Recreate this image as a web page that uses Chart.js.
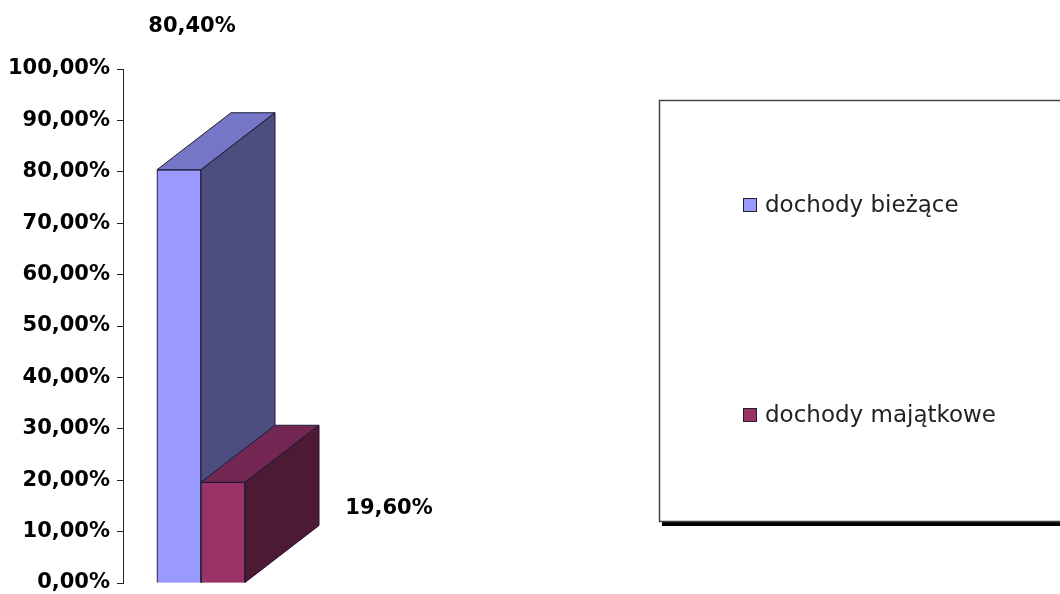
<!DOCTYPE html>
<html>
<head>
<meta charset="utf-8">
<script src="https://cdn.jsdelivr.net/npm/chart.js@4.4.1/dist/chart.umd.min.js"></script>
<style>
  html, body { margin: 0; padding: 0; background: #fff; }
</style>
</head>
<body>
<canvas id="chart" width="1060" height="594"></canvas>
<script>
// data
const categories = [''];
const seriesNames = ['dochody bieżące', 'dochody majątkowe'];
const seriesValues = [[80.4], [19.6]];
const yTicks = [0, 10, 20, 30, 40, 50, 60, 70, 80, 90, 100];

// styles
const frontColors = ['#9999ff', '#993366'];
const topColors = ['#7676c8', '#742752'];
const sideColors = ['#4d4d80', '#4d1a33'];
const edgeColor = '#1a1a33';
const DEPTH_X = 74;
const DEPTH_Y = 57;
// where Excel put the value labels, relative to the bar top
const labelOffsets = [[13, -143], [166, 26]];

function fmtPct(v) {
    return v.toFixed(2).replace('.', ',') + '%';
}

// draws the extruded top and side of each bar, in dataset order
const bar3d = {
    id: 'bar3d',
    afterDatasetsDraw(chart) {
        const ctx = chart.ctx;
        chart.data.datasets.forEach((ds, i) => {
            const meta = chart.getDatasetMeta(i);
            meta.data.forEach(bar => {
                const p = bar.getProps(['x', 'y', 'base', 'width'], true);
                const l = p.x - p.width / 2;
                const r = p.x + p.width / 2;
                const t = p.y;
                const b = p.base;
                // redraw the front so it sits over the previous bar's side
                bar.draw(ctx);
                ctx.save();
                ctx.strokeStyle = edgeColor;
                ctx.lineWidth = 1;
                ctx.lineJoin = 'round';
                ctx.beginPath();
                ctx.moveTo(l, t);
                ctx.lineTo(l + DEPTH_X, t - DEPTH_Y);
                ctx.lineTo(r + DEPTH_X, t - DEPTH_Y);
                ctx.lineTo(r, t);
                ctx.closePath();
                ctx.fillStyle = topColors[i];
                ctx.fill();
                ctx.stroke();
                ctx.beginPath();
                ctx.moveTo(r, t);
                ctx.lineTo(r + DEPTH_X, t - DEPTH_Y);
                ctx.lineTo(r + DEPTH_X, b - DEPTH_Y);
                ctx.lineTo(r, b);
                ctx.closePath();
                ctx.fillStyle = sideColors[i];
                ctx.fill();
                ctx.stroke();
                ctx.restore();
            });
        });
        // value labels
        ctx.save();
        ctx.font = 'bold 21px "DejaVu Sans"';
        ctx.fillStyle = '#000';
        ctx.textAlign = 'center';
        ctx.textBaseline = 'middle';
        chart.data.datasets.forEach((ds, i) => {
            const bar = chart.getDatasetMeta(i).data[0];
            const off = labelOffsets[i];
            ctx.fillText(fmtPct(ds.data[0]), bar.x + off[0], bar.y + off[1]);
        });
        ctx.restore();
    }
};

// Excel-style legend box with drop shadow
const boxLegend = {
    id: 'boxLegend',
    afterDraw(chart) {
        const ctx = chart.ctx;
        const rowsY = [205, 415];
        ctx.save();
        ctx.fillStyle = '#000';
        ctx.fillRect(662, 522, 420, 4);
        ctx.strokeStyle = '#444';
        ctx.lineWidth = 1.5;
        ctx.strokeRect(659.5, 100.5, 420, 421);
        ctx.font = '23px "DejaVu Sans"';
        ctx.textBaseline = 'middle';
        chart.data.datasets.forEach((ds, i) => {
            const y = rowsY[i];
            ctx.fillStyle = ds.backgroundColor;
            ctx.fillRect(743.5, y - 7, 13, 13);
            ctx.strokeStyle = '#222';
            ctx.lineWidth = 1;
            ctx.strokeRect(743.5, y - 7 + 0.5, 13, 13);
            ctx.fillStyle = '#222';
            ctx.fillText(ds.label, 765, y + 1);
        });
        ctx.restore();
    }
};

const ctx = document.getElementById('chart').getContext('2d');
const chart = new Chart(ctx, {
    type: 'bar',
    data: {
        labels: categories,
        datasets: seriesNames.map((name, i) => ({
            label: name,
            data: seriesValues[i],
            backgroundColor: frontColors[i],
            borderColor: edgeColor,
            borderWidth: 1,
            barThickness: 44
        }))
    },
    options: {
        responsive: false,
        animation: false,
        devicePixelRatio: 1,
        layout: {
            padding: { left: 0, top: 69, right: 781, bottom: 11 }
        },
        plugins: {
            legend: { display: false },
            tooltip: { enabled: false }
        },
        scales: {
            x: { display: false },
            y: {
                min: 0,
                max: 100,
                afterFit: function(scale) {
                    scale.width = 123;
                    scale.paddingTop = 0;
                    scale.paddingBottom = 0;
                },
                afterBuildTicks: function(scale) {
                    scale.ticks = yTicks.map(v => ({ value: v }));
                },
                border: { display: true, color: '#222', width: 1 },
                grid: { drawOnChartArea: false, drawTicks: true, tickLength: 6, color: '#222' },
                ticks: {
                    padding: 7,
                    color: '#000',
                    font: { family: 'DejaVu Sans', weight: 'bold', size: 21, lineHeight: 1 },
                    callback: v => fmtPct(v)
                }
            }
        }
    },
    plugins: [bar3d, boxLegend]
});
</script>
</body>
</html>
